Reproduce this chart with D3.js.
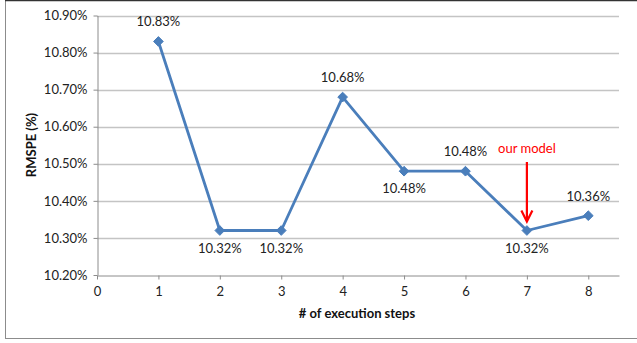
<!DOCTYPE html>
<html>
<head>
<meta charset="utf-8">
<script src="https://cdn.jsdelivr.net/npm/d3@7"></script>
<style>
  html, body { margin: 0; padding: 0; background: #fff; }
  svg { display: block; font-family: Lato, "Open Sans", sans-serif; }
</style>
</head>
<body>
<svg id="chart" width="637" height="343"></svg>
<script>
// Execution steps and the RMSPE reached at each one (percent)
const steps = [1, 2, 3, 4, 5, 6, 7, 8];
const rmspe = [10.83, 10.32, 10.32, 10.68, 10.48, 10.48, 10.32, 10.36];
// Where each value label sits relative to its point
const labelSide = ["above", "below", "below", "above", "below", "above", "below", "above"];
const xTicks = [0, 1, 2, 3, 4, 5, 6, 7, 8];
const yTicks = [10.20, 10.30, 10.40, 10.50, 10.60, 10.70, 10.80, 10.90];
const highlightStep = 7;
const highlightText = "our model";

const svg = d3.select("#chart");
const W = 637, H = 343;
const plot = { left: 97, right: 619, top: 15.5, bottom: 275 };
const FS = 13;

// chart frame
svg.append("rect").attr("x", 5.5).attr("y", 0.5).attr("width", 640).attr("height", 338)
  .attr("fill", "#fff").attr("stroke", "#8c8c8c").attr("stroke-width", 1);
svg.append("line").attr("x1", 5).attr("x2", W).attr("y1", 0.5).attr("y2", 0.5)
  .attr("stroke", "#333").attr("stroke-width", 1.5);

const x = d3.scaleLinear().domain([0, 8.5]).range([plot.left, plot.right]);
const y = d3.scaleLinear().domain([10.2, 10.9]).range([plot.bottom, plot.top]);

// horizontal gridlines
svg.append("g").selectAll("line").data(yTicks.slice(1)).join("line")
  .attr("x1", plot.left).attr("x2", plot.right)
  .attr("y1", d => Math.round(y(d)) + 0.5).attr("y2", d => Math.round(y(d)) + 0.5)
  .attr("stroke", "#c4c4c4").attr("stroke-width", 1.3);

// y axis
const yAxis = d3.axisLeft(y).tickValues(yTicks).tickSizeInner(4).tickSizeOuter(0)
  .tickPadding(6).tickFormat(d => d.toFixed(2) + "%");
const gy = svg.append("g").attr("transform", `translate(${plot.left + 0.5},0)`).call(yAxis);
gy.select(".domain").attr("stroke", "#8c8c8c");
gy.selectAll(".tick line").attr("stroke", "#8c8c8c");
gy.selectAll(".tick text").attr("font-size", FS).attr("fill", "#222")
  .attr("font-family", "Lato, 'Open Sans', sans-serif");

// x axis
const xAxis = d3.axisBottom(x).tickValues(xTicks).tickSizeInner(4).tickSizeOuter(0)
  .tickPadding(7).tickFormat(d3.format("d"));
const gx = svg.append("g").attr("transform", `translate(0,${Math.round(plot.bottom) + 0.5})`).call(xAxis);
gx.select(".domain").attr("stroke", "#8c8c8c");
gx.selectAll(".tick line").attr("stroke", "#8c8c8c");
gx.selectAll(".tick text").attr("font-size", FS).attr("fill", "#222")
  .attr("font-family", "Lato, 'Open Sans', sans-serif");

// axis titles
svg.append("text").attr("x", 357).attr("y", 318).attr("text-anchor", "middle")
  .attr("font-size", FS).attr("font-weight", "bold").attr("fill", "#111")
  .text("# of execution steps");
svg.append("text").attr("transform", "translate(36,145) rotate(-90)")
  .attr("text-anchor", "middle").attr("font-size", FS).attr("font-weight", "bold")
  .attr("fill", "#111").text("RMSPE (%)");

// series line
const pts = steps.map((s, i) => ({ s, v: rmspe[i], side: labelSide[i] }));
svg.append("path").datum(pts)
  .attr("d", d3.line().x(d => x(d.s)).y(d => y(d.v)))
  .attr("fill", "none").attr("stroke", "#4A7EBB").attr("stroke-width", 2.8)
  .attr("stroke-linejoin", "round");

// diamond markers
svg.append("g").selectAll("path").data(pts).join("path")
  .attr("transform", d => `translate(${x(d.s)},${y(d.v)})`)
  .attr("d", d3.symbol().type(d3.symbolDiamond2).size(60))
  .attr("fill", "#4A7EBB").attr("stroke", "#4A7EBB").attr("stroke-width", 1);

// value labels
svg.append("g").selectAll("text").data(pts).join("text")
  .attr("x", d => x(d.s))
  .attr("y", d => y(d.v) + (d.side === "above" ? -15 : 22))
  .attr("text-anchor", "middle").attr("font-size", FS).attr("fill", "#222")
  .text(d => d.v.toFixed(2) + "%");

// annotation pointing at the highlighted step
const hi = pts.find(d => d.s === highlightStep);
const ax = x(hi.s);
const tipY = y(hi.v) - 9;
svg.append("text").attr("x", ax).attr("y", 153).attr("text-anchor", "middle")
  .attr("font-size", FS).attr("fill", "#ff0000").text(highlightText);
svg.append("line").attr("x1", ax).attr("x2", ax).attr("y1", 162).attr("y2", tipY - 2)
  .attr("stroke", "#ff0000").attr("stroke-width", 2.2);
svg.append("path")
  .attr("d", `M${ax - 5.5},${tipY - 11} L${ax},${tipY} L${ax + 5.5},${tipY - 11}`)
  .attr("fill", "none").attr("stroke", "#ff0000").attr("stroke-width", 2.2);
</script>
</body>
</html>
